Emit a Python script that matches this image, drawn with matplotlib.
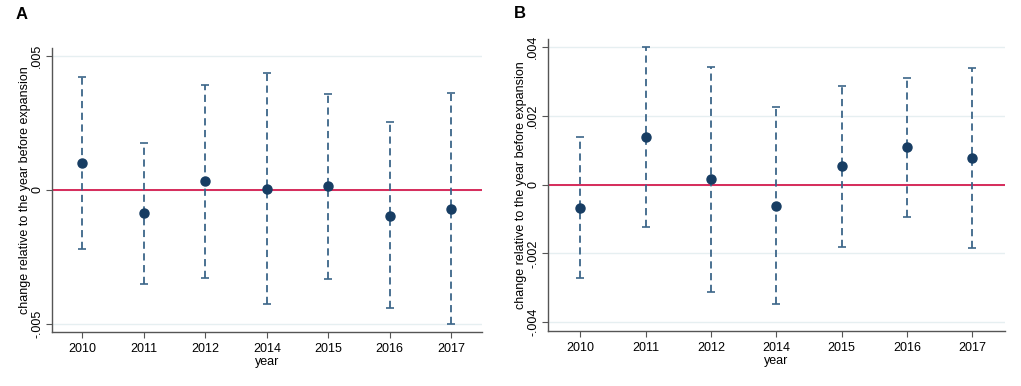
import numpy as np
import matplotlib.pyplot as plt

plt.rcParams['font.family'] = ['Liberation Sans', 'DejaVu Sans']

years = ['2010', '2011', '2012', '2014', '2015', '2016', '2017']

# panel A: point estimate and 95% CI
a_est = [0.00099, -0.00088, 0.00032, 0.00002, 0.00014, -0.00097, -0.00071]
a_lo = [-0.00222, -0.00350, -0.00328, -0.00426, -0.00331, -0.00442, -0.00500]
a_hi = [0.00423, 0.00176, 0.00392, 0.00435, 0.00359, 0.00252, 0.00360]
a_ticks = [-0.005, 0, 0.005]
a_ticklabels = ['-.005', '0', '.005']

# panel B
b_est = [-0.00069, 0.00140, 0.00015, -0.00061, 0.00053, 0.00109, 0.00077]
b_lo = [-0.00273, -0.00122, -0.00312, -0.00346, -0.00181, -0.00094, -0.00185]
b_hi = [0.00138, 0.00400, 0.00341, 0.00227, 0.00288, 0.00311, 0.00339]
b_ticks = [-0.004, -0.002, 0, 0.002, 0.004]
b_ticklabels = ['-.004', '-.002', '0', '.002', '.004']

fig = plt.figure(figsize=(10.21, 3.86), dpi=100)
ax_a = fig.add_axes([0.0506, 0.140, 0.4215, 0.736])
ax_b = fig.add_axes([0.5364, 0.1425, 0.4479, 0.7565])


def draw_panel(ax, est, lo, hi, ticks, ticklabels, ylim, letter, lx, ly):
    x = np.arange(len(years))
    est = np.array(est)
    yerr = [est - np.array(lo), np.array(hi) - est]
    for t in ticks:
        ax.axhline(t, color='#e6eff1', lw=1.0, zorder=0)
    ax.axhline(0, color='#d62b5a', lw=1.4, zorder=1)
    eb = ax.errorbar(x, est, yerr=yerr, fmt='none', ecolor='#3c6689',
                     elinewidth=1.3, capsize=3, capthick=1.2, zorder=2)
    eb[2][0].set_linestyle((0, (4, 2.5)))
    ax.plot(x, est, 'o', color='#173d63', markersize=6.5, zorder=3)
    ax.set_xlim(-0.5, 6.5)
    ax.set_ylim(*ylim)
    ax.set_xticks(x)
    ax.set_xticklabels(years, fontsize=9)
    ax.set_yticks(ticks)
    ax.set_yticklabels(ticklabels, fontsize=9, rotation=90, va='center')
    ax.set_xlabel('year', fontsize=9, labelpad=1)
    ax.set_ylabel('change relative to the year before expansion', fontsize=9, labelpad=0)
    for s in ['top', 'right']:
        ax.spines[s].set_visible(False)
    for s in ['left', 'bottom']:
        ax.spines[s].set_color('#555555')
        ax.spines[s].set_linewidth(1.0)
    ax.tick_params(length=4, color='#555555', pad=2)
    ax.tick_params(axis='x', pad=4)
    fig.text(lx, ly, letter, fontsize=12, fontweight='bold', ha='left', va='center')


draw_panel(ax_a, a_est, a_lo, a_hi, a_ticks, a_ticklabels, (-0.0053, 0.0053), 'A', 0.015, 0.962)
draw_panel(ax_b, b_est, b_lo, b_hi, b_ticks, b_ticklabels, (-0.00426, 0.00424), 'B', 0.503, 0.965)

fig.savefig('out.png', dpi=100)
